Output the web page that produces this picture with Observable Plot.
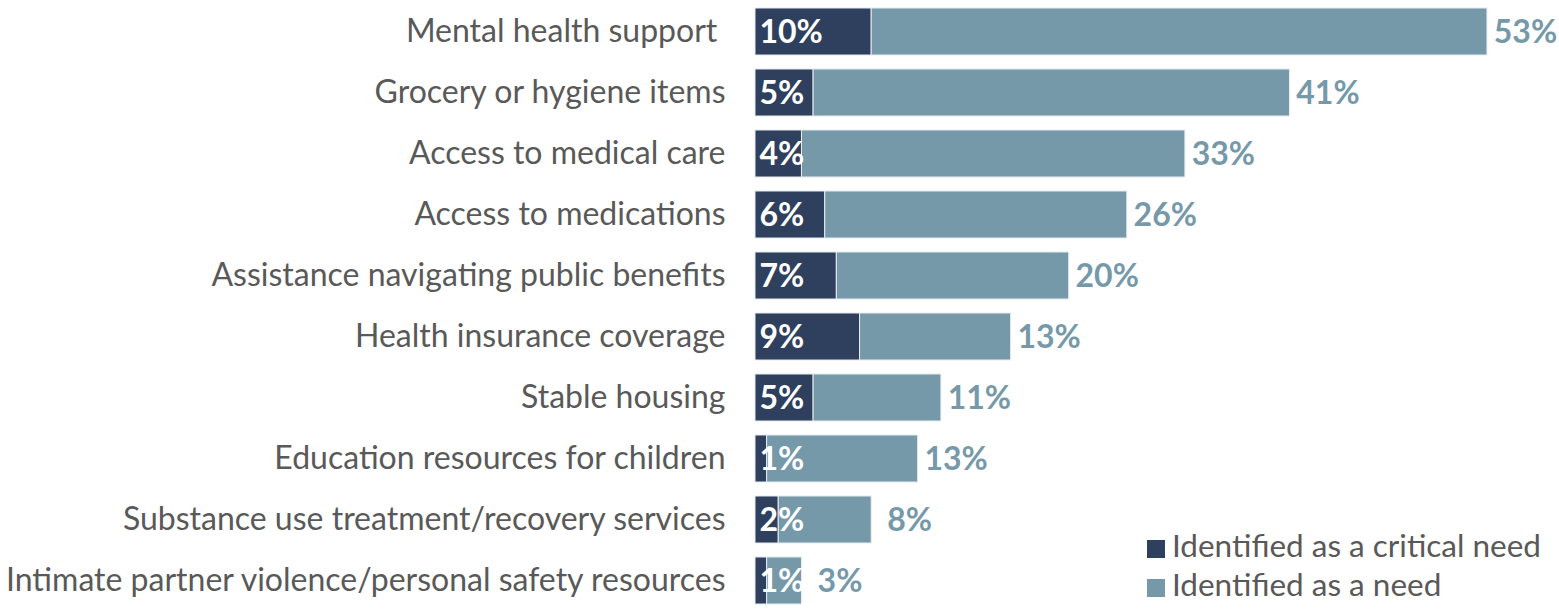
<!DOCTYPE html>
<html>
<head>
<meta charset="utf-8">
<script src="https://cdn.jsdelivr.net/npm/d3@7"></script>
<script src="https://cdn.jsdelivr.net/npm/@observablehq/plot@0.6"></script>
<style>
  body { margin: 0; background: #fff; font-family: Lato, sans-serif; }
  #wrap { position: relative; width: 1559px; height: 613px; }
  #legend { position: absolute; left: 1147px; top: 526px; font-family: Lato, sans-serif; font-size: 31.5px; color: #595959; line-height: 39px; }
  #legend .sw { display: inline-block; width: 18px; height: 18px; margin-right: 7px; vertical-align: -1px; }
</style>
</head>
<body>
<div id="wrap">
  <div id="chart"></div>
  <div id="legend"></div>
</div>
<script>
const categories = [
  "Mental health support\u00a0",
  "Grocery or hygiene items",
  "Access to medical care",
  "Access to medications",
  "Assistance navigating public benefits",
  "Health insurance coverage",
  "Stable housing",
  "Education resources for children",
  "Substance use treatment/recovery services",
  "Intimate partner violence/personal safety resources"
];
const critical = [10, 5, 4, 6, 7, 9, 5, 1, 2, 1];
const need = [53, 41, 33, 26, 20, 13, 11, 13, 8, 3];
const seriesNames = ["Identified as a critical need", "Identified as a need"];
const seriesColors = ["#2f3f5e", "#7699aa"];

const rows = [];
categories.forEach((c, i) => {
  rows.push({category: c, series: seriesNames[0], value: critical[i]});
  rows.push({category: c, series: seriesNames[1], value: need[i]});
});
const labels = categories.map((c, i) => ({category: c, crit: critical[i], need: need[i]}));

const chart = Plot.plot({
  width: 1559,
  height: 613,
  marginLeft: 755,
  marginRight: 0,
  marginTop: 6,
  marginBottom: 7,
  style: {fontFamily: "Lato, sans-serif", background: "white"},
  x: {domain: [0, 69.2], axis: null},
  y: {domain: categories, paddingInner: 0.235, paddingOuter: 0, label: null},
  color: {domain: seriesNames, range: seriesColors},
  marks: [
    Plot.barX(rows, Plot.stackX({x: "value", y: "category", fill: "series", order: null, stroke: "#e6ecf0", strokeWidth: 1})),
    Plot.text(labels, {x: d => 0, y: "category", text: d => d.crit + "%", textAnchor: "start", dx: 4, dy: 1, fill: "white", fontWeight: "bold", fontSize: 32}),
    Plot.text(labels, {x: d => d.crit + d.need, y: "category", text: d => d.need + "%", textAnchor: "middle", dx: 38, dy: 1, fill: seriesColors[1], fontWeight: "bold", fontSize: 32}),
    Plot.axisY({tickSize: 0, tickPadding: 30, fontSize: 32, color: "#595959", label: null})
  ]
});
document.getElementById("chart").appendChild(chart);

const legend = document.getElementById("legend");
seriesNames.forEach((s, i) => {
  const row = document.createElement("div");
  row.innerHTML = `<span class="sw" style="background:${seriesColors[i]}"></span>${s}`;
  legend.appendChild(row);
});
</script>
</body>
</html>
